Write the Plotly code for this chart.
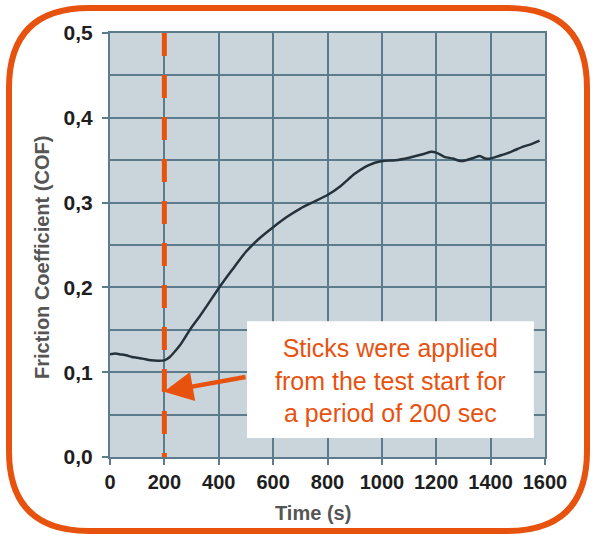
import plotly.graph_objects as go

# ---- data ----
time_s = [0, 20, 40, 60, 80, 100, 120, 150, 180, 200, 220, 240, 260, 280, 300, 330, 360,
          400, 450, 500, 550, 600, 650, 700, 750, 800, 850, 900, 950, 1000, 1050, 1100,
          1150, 1180, 1200, 1230, 1260, 1290, 1310, 1340, 1360, 1380, 1400, 1430, 1460,
          1490, 1520, 1550, 1580]
cof = [0.121, 0.122, 0.121, 0.120, 0.118, 0.117, 0.116, 0.114, 0.1135, 0.114, 0.118,
       0.125, 0.133, 0.143, 0.153, 0.166, 0.180, 0.199, 0.221, 0.242, 0.258, 0.271,
       0.283, 0.293, 0.301, 0.309, 0.320, 0.334, 0.344, 0.349, 0.350, 0.353, 0.357,
       0.360, 0.359, 0.354, 0.352, 0.349, 0.350, 0.353, 0.355, 0.352, 0.352, 0.355,
       0.358, 0.362, 0.366, 0.369, 0.373]

stick_time = [200, 200]
stick_range = [0.5, 0.0]

x_ticks = [0, 200, 400, 600, 800, 1000, 1200, 1400, 1600]
y_ticks = [0.0, 0.1, 0.2, 0.3, 0.4, 0.5]

note_lines = ["Sticks were applied", "from the test start for", "a period of 200 sec"]
note_box_x = [504, 1559]
note_box_y = [0.0224, 0.160]
note_center = (1030, 0.0905)
arrow_head = (198, 0.077)
arrow_tail = (504, 0.0947)

ORANGE = "#e8520f"
GRID = "#5c7b8d"
BG = "#cad4db"
FONT = "Liberation Sans, Arial, sans-serif"

W, H = 592, 535
ML, MR, MT, MB = 110, 47, 33, 78
PW, PH = W - ML - MR, H - MT - MB


def px(xp):
    return (xp - ML) / PW


def py(yp):
    return (H - MB - yp) / PH


def rounded_rect(L, T, R, B, r):
    pts = [
        f"M {px(L + r)},{py(T)}",
        f"L {px(R - r)},{py(T)}",
        f"Q {px(R)},{py(T)} {px(R)},{py(T + r)}",
        f"L {px(R)},{py(B - r)}",
        f"Q {px(R)},{py(B)} {px(R - r)},{py(B)}",
        f"L {px(L + r)},{py(B)}",
        f"Q {px(L)},{py(B)} {px(L)},{py(B - r)}",
        f"L {px(L)},{py(T + r)}",
        f"Q {px(L)},{py(T)} {px(L + r)},{py(T)} Z",
    ]
    return " ".join(pts)


fig = go.Figure()
fig.add_trace(go.Scatter(x=stick_time, y=stick_range, mode="lines",
                         line=dict(color=ORANGE, width=5, dash="23px,19px"),
                         hoverinfo="skip", showlegend=False))
fig.add_trace(go.Scatter(x=time_s, y=cof, mode="lines",
                         line=dict(color="#24323b", width=2.5, shape="spline", smoothing=0.6),
                         showlegend=False))

fig.add_shape(type="rect", xref="x", yref="y",
              x0=note_box_x[0], x1=note_box_x[1], y0=note_box_y[0], y1=note_box_y[1],
              fillcolor="white", line=dict(width=0), layer="above")
fig.add_shape(type="path", xref="paper", yref="paper",
              path=rounded_rect(9, 8, 587, 531, 80),
              line=dict(color=ORANGE, width=6), layer="above")

fig.add_annotation(x=note_center[0], y=note_center[1], xref="x", yref="y",
                   text="<br>".join(note_lines), showarrow=False,
                   xanchor="center", yanchor="middle",
                   font=dict(family=FONT, size=25, color=ORANGE), align="center")
fig.add_annotation(x=arrow_head[0], y=arrow_head[1], xref="x", yref="y",
                   ax=arrow_tail[0], ay=arrow_tail[1], axref="x", ayref="y",
                   text="", showarrow=True, arrowhead=2, arrowsize=1.3,
                   arrowwidth=4.5, arrowcolor=ORANGE)

fig.add_annotation(x=px(313), y=py(513), xref="paper", yref="paper",
                   xanchor="center", yanchor="middle",
                   text="<b>Time (s)</b>", showarrow=False,
                   font=dict(family=FONT, size=20, color="#555555"))
fig.add_annotation(x=px(42), y=py(258), xref="paper", yref="paper",
                   xanchor="center", yanchor="middle",
                   text="<b>Friction Coefficient (COF)</b>", textangle=-90, showarrow=False,
                   font=dict(family=FONT, size=20, color="#555555"))

fig.update_xaxes(range=[0, 1600], tickvals=x_ticks, ticktext=[str(v) for v in x_ticks],
                 showgrid=True, gridcolor=GRID, gridwidth=2,
                 showline=True, linecolor=GRID, linewidth=2, mirror=True,
                 zeroline=False, ticks="outside", ticklen=6, tickwidth=2, tickcolor=GRID,
                 tickfont=dict(family=FONT, size=20, color="#1e1e1e", weight="bold"))
fig.update_yaxes(range=[0, 0.5], tickvals=y_ticks,
                 ticktext=[f"{v:.1f}".replace(".", ",") for v in y_ticks],
                 showgrid=True, gridcolor=GRID, gridwidth=2,
                 minor=dict(dtick=0.05, showgrid=True, gridcolor=GRID, gridwidth=2, ticks=""),
                 showline=True, linecolor=GRID, linewidth=2, mirror=True,
                 zeroline=False, ticks="outside", ticklen=6, tickwidth=2, tickcolor=GRID,
                 ticklabelstandoff=5,
                 tickfont=dict(family=FONT, size=21, color="#1e1e1e", weight="bold"))

fig.update_layout(width=W, height=H, margin=dict(l=ML, r=MR, t=MT, b=MB),
                  plot_bgcolor=BG, paper_bgcolor="white", showlegend=False)

fig.write_html("out.html", config={"displayModeBar": False},
               post_script="document.body.style.margin='0';document.body.style.overflow='hidden';")
